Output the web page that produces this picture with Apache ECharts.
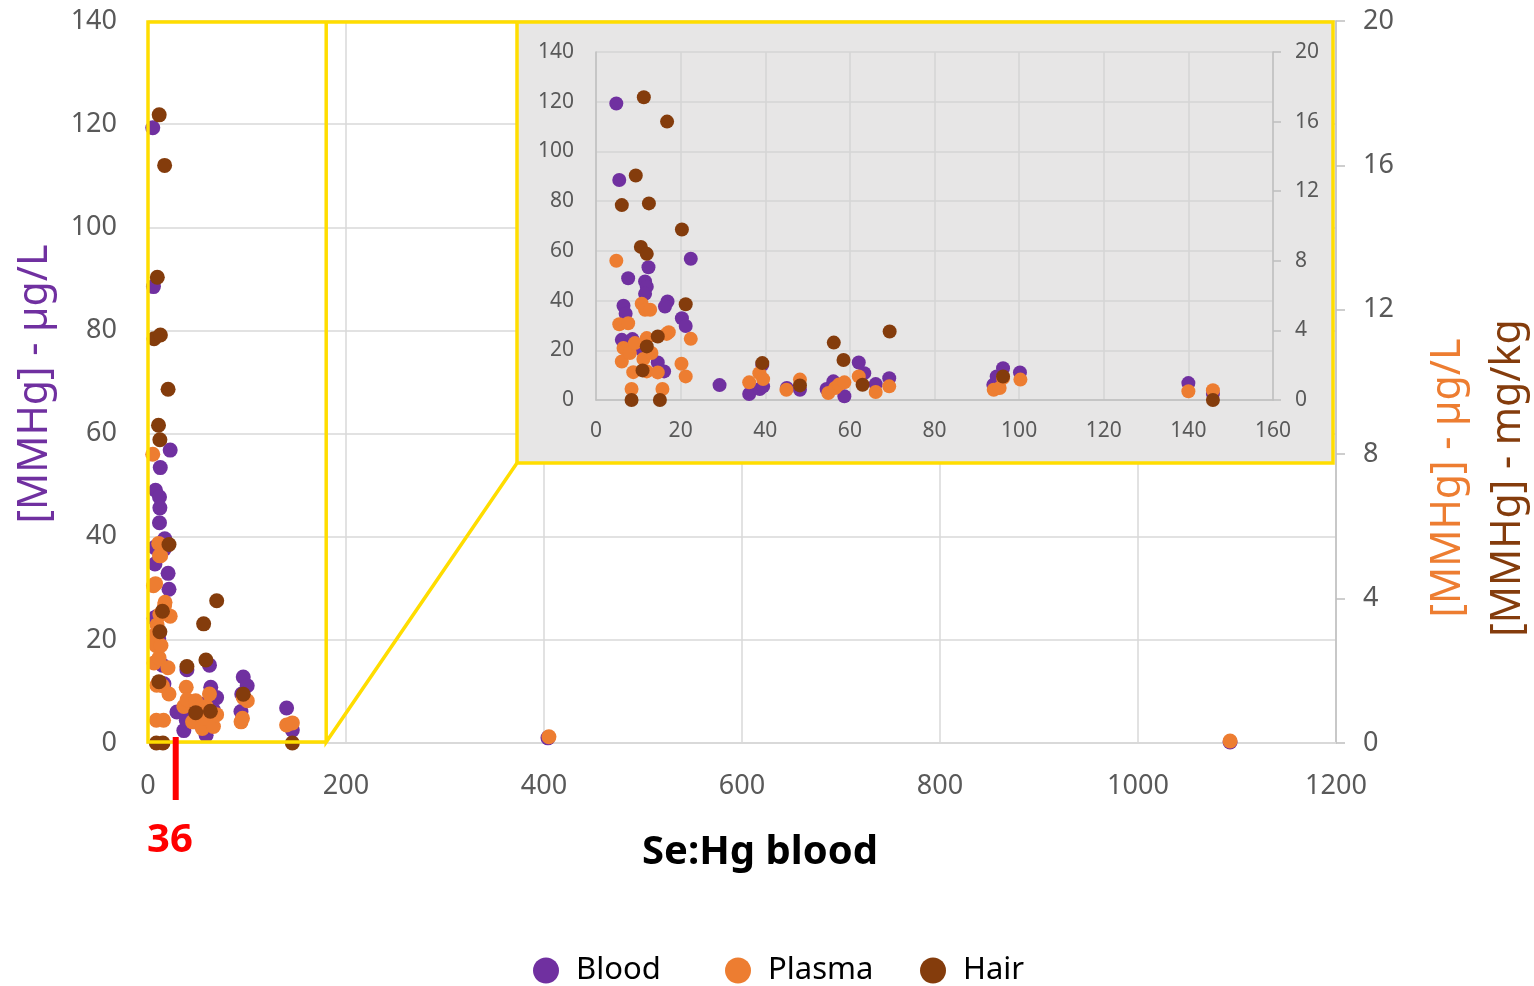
<!DOCTYPE html>
<html>
<head>
<meta charset="utf-8">
<script src="https://cdn.jsdelivr.net/npm/echarts@6/dist/echarts.min.js"></script>
<style>
    html, body { margin: 0; padding: 0; background: #fff; }
    #chart { width: 1534px; height: 986px; }
</style>
</head>
<body>
<div id="chart"></div>
<script>
// Se:Hg ratio in blood (x) against MMHg concentration
var bloodX = [4.8, 5.5, 7.6, 12.4, 11.6, 12, 11.6, 6.5, 7, 16.9, 16.3, 22.4, 20.3, 21.2, 6.1, 8.6, 10.8, 14.6, 16.1,
    29.2, 36.2, 38.7, 39.3, 39.5, 45.1, 48.2, 54.5, 56.1, 58.7, 62.1, 63.4, 66.1, 69.3, 93.9, 94.7, 96.2, 100.2,
    140, 145.8, 404, 1093];
var bloodY = [119.3, 88.5, 49, 53.4, 47.7, 45.6, 42.7, 37.9, 34.7, 39.6, 37.6, 56.8, 32.9, 29.8, 24.2, 24.5, 20.2, 15.1, 11.5,
    6, 2.4, 4.4, 14.2, 5.5, 4.8, 4.1, 4.4, 7.5, 1.5, 15.1, 10.8, 6.4, 8.8, 6.1, 9.5, 12.8, 11.1,
    6.8, 2.5, 1.0, 0.2];

var plasmaX = [4.8, 5.5, 7.6, 6.5, 7.2, 6.1, 8, 10.8, 11.6, 12.8, 9.2, 12, 8.8, 8.4, 11.2, 13.1, 12, 14.6, 15.7, 16.7,
    17.2, 20.2, 21.2, 22.4, 36.2, 38.6, 39.5, 45, 48.2, 54.9, 56.5, 57.4, 58.7, 62.1, 66.1, 69.3, 94, 95.4, 96.2,
    100.3, 140, 145.8, 405, 1093];
var plasmaY = [56, 30.5, 30.9, 20.9, 20.2, 15.5, 18.9, 38.7, 36.3, 36.3, 22.9, 24.9, 11.2, 4.4, 16.5, 18.9, 11.5, 11.1, 4.4, 26.6,
    27.3, 14.6, 9.5, 24.6, 7.1, 10.8, 8.4, 4.1, 8.2, 2.8, 4.8, 6.2, 7.1, 9.5, 3.2, 5.5, 4.1, 4.8, 8.8,
    8.2, 3.5, 3.9, 1.2, 0.4];

// hair in mg/kg (right axis)
var hairX = [11.3, 16.8, 9.4, 6.1, 12.5, 20.3, 10.6, 12, 21.2, 14.6, 12, 11, 8.4, 15.1, 39.3, 48.2, 56.2, 58.5, 63,
    69.4, 96.2, 145.8];
var hairY = [17.4, 16.0, 12.9, 11.2, 11.3, 9.8, 8.8, 8.4, 5.5, 3.65, 3.08, 1.7, 0, 0, 2.12, 0.84, 3.3, 2.3, 0.88,
    3.94, 1.35, 0];

var seriesNames = ['Blood', 'Plasma', 'Hair'];
var colors = ['#7030A0', '#ED7D31', '#843C0C'];

var cutoffLabel = '36';
var cutoffPos = 28;
var zoomMaxX = 180;
var zoomMaxY = 140;

function zip(xs, ys) {
    var out = [];
    for (var i = 0; i < xs.length; i++) out.push([xs[i], ys[i]]);
    return out;
}

var FONT = 'Noto Sans';
var yellow = '#FFDD00';
var insetBox = {left: 517, top: 22, right: 1333, bottom: 463};
var legendLeft = [528, 720, 915];

var chart = echarts.init(document.getElementById('chart'));

function scatter(name, data, xi, yi, size, z) {
    return {
        name: name,
        type: 'scatter',
        xAxisIndex: xi,
        yAxisIndex: yi,
        data: data,
        symbolSize: size,
        clip: true,
        z: z,
        itemStyle: {color: colors[seriesNames.indexOf(name)], opacity: 1},
        emphasis: {disabled: true}
    };
}

function plain(v) { return String(v); }

var labelMain = {fontFamily: FONT, fontSize: 27, color: '#595959', formatter: plain};
var labelInset = {fontFamily: FONT, fontSize: 21, color: '#595959', formatter: plain};

chart.setOption({
    animation: false,
    backgroundColor: '#fff',
    grid: [
        {left: 148, right: 198, top: 21, bottom: 243, show: false},
        {left: 596, right: 261, top: 52, bottom: 586, show: false}
    ],
    legend: seriesNames.map(function (n, i) {
        return {
            data: [n],
            top: 950,
            left: legendLeft[i],
            icon: 'circle',
            itemWidth: 50,
            itemHeight: 26,
            selectedMode: false,
            textStyle: {fontFamily: FONT, fontSize: 31, color: '#000'}
        };
    }),
    xAxis: [
        {
            type: 'value', gridIndex: 0, min: 0, max: 1200, interval: 200,
            axisLine: {show: true, lineStyle: {color: '#d9d9d9', width: 2}},
            axisTick: {show: false},
            splitLine: {show: true, lineStyle: {color: '#d9d9d9', width: 1.5}},
            axisLabel: Object.assign({margin: 30}, labelMain)
        },
        {
            type: 'value', gridIndex: 1, min: 0, max: 160, interval: 20, z: 10,
            axisLine: {show: true, lineStyle: {color: '#bfbfbf', width: 1.5}},
            axisTick: {show: false},
            splitLine: {show: true, lineStyle: {color: '#d4d4d4', width: 1.5}},
            axisLabel: Object.assign({margin: 21}, labelInset)
        }
    ],
    yAxis: [
        {
            type: 'value', gridIndex: 0, min: 0, max: 140, interval: 20,
            axisLine: {show: false},
            axisTick: {show: false},
            splitLine: {show: true, lineStyle: {color: '#d9d9d9', width: 1.5}},
            axisLabel: Object.assign({margin: 31}, labelMain)
        },
        {
            type: 'value', gridIndex: 0, position: 'right', min: 0, max: 20, interval: 4,
            axisLine: {show: true, lineStyle: {color: '#bfbfbf', width: 1.5}},
            axisTick: {show: true, length: 9, lineStyle: {color: '#bfbfbf', width: 1.5}},
            splitLine: {show: false},
            axisLabel: Object.assign({margin: 27}, labelMain)
        },
        {
            type: 'value', gridIndex: 1, min: 0, max: 140, interval: 20, z: 10,
            axisLine: {show: true, lineStyle: {color: '#bfbfbf', width: 1.5}},
            axisTick: {show: false},
            splitLine: {show: true, lineStyle: {color: '#d4d4d4', width: 1.5}},
            axisLabel: Object.assign({margin: 22}, labelInset)
        },
        {
            type: 'value', gridIndex: 1, position: 'right', min: 0, max: 20, interval: 4, z: 10,
            axisLine: {show: true, lineStyle: {color: '#bfbfbf', width: 1.5}},
            axisTick: {show: true, length: 8, lineStyle: {color: '#bfbfbf', width: 1.5}},
            splitLine: {show: false},
            axisLabel: Object.assign({margin: 22}, labelInset)
        }
    ],
    series: [
        scatter('Blood', zip(bloodX, bloodY), 0, 0, 15, 2),
        scatter('Plasma', zip(plasmaX, plasmaY), 0, 0, 15, 2),
        scatter('Hair', zip(hairX, hairY), 0, 1, 15, 2),
        scatter('Blood', zip(bloodX, bloodY), 1, 2, 14, 12),
        scatter('Plasma', zip(plasmaX, plasmaY), 1, 2, 14, 12),
        scatter('Hair', zip(hairX, hairY), 1, 3, 14, 12)
    ]
});

// zoom frame, connector, inset background and titles
var c0 = chart.convertToPixel({xAxisIndex: 0, yAxisIndex: 0}, [0, 0]);
var c1 = chart.convertToPixel({xAxisIndex: 0, yAxisIndex: 0}, [zoomMaxX, zoomMaxY]);
var cutX = chart.convertToPixel({xAxisIndex: 0}, cutoffPos);
var boxTop = insetBox.top;
var baseY = c0[1] - 1;

chart.setOption({
    graphic: [
        {
            type: 'rect', z: 5, silent: true,
            shape: {x: insetBox.left, y: boxTop, width: insetBox.right - insetBox.left, height: insetBox.bottom - boxTop},
            style: {fill: '#E7E6E6'}
        },
        {
            type: 'polyline', z: 50, silent: true,
            shape: {points: [
                [c1[0], baseY], [c0[0], baseY], [c0[0], boxTop], [insetBox.right, boxTop],
                [insetBox.right, insetBox.bottom], [insetBox.left, insetBox.bottom], [c1[0], baseY], [c1[0], boxTop]
            ]},
            style: {stroke: yellow, lineWidth: 3.5, fill: 'none', lineJoin: 'miter'}
        },
        {
            type: 'line', z: 50, silent: true,
            shape: {x1: insetBox.left, y1: boxTop, x2: insetBox.left, y2: insetBox.bottom},
            style: {stroke: yellow, lineWidth: 3.5}
        },
        {
            type: 'rect', z: 51, silent: true,
            shape: {x: cutX - 3, y: c0[1] - 6, width: 6, height: 63},
            style: {fill: '#FF0000'}
        },
        {
            type: 'text', z: 51, silent: true, x: 170, y: 841,
            style: {text: cutoffLabel, fill: '#FF0000', font: 'bold 40px "Noto Sans"', align: 'center', verticalAlign: 'middle'}
        },
        {
            type: 'text', silent: true, x: 760, y: 853,
            style: {text: 'Se:Hg blood', fill: '#000', font: 'bold 40px "Noto Sans"', align: 'center', verticalAlign: 'middle'}
        },
        {
            type: 'text', silent: true, x: 35, y: 384, rotation: Math.PI / 2,
            style: {text: '[MMHg] - µg/L', fill: colors[0], font: '41px "Noto Sans"', align: 'center', verticalAlign: 'middle'}
        },
        {
            type: 'text', silent: true, x: 1448, y: 478, rotation: Math.PI / 2,
            style: {text: '[MMHg] - µg/L', fill: colors[1], font: '41px "Noto Sans"', align: 'center', verticalAlign: 'middle'}
        },
        {
            type: 'text', silent: true, x: 1508, y: 478, rotation: Math.PI / 2,
            style: {text: '[MMHg] - mg/kg', fill: colors[2], font: '41px "Noto Sans"', align: 'center', verticalAlign: 'middle'}
        }
    ]
});
</script>
</body>
</html>
